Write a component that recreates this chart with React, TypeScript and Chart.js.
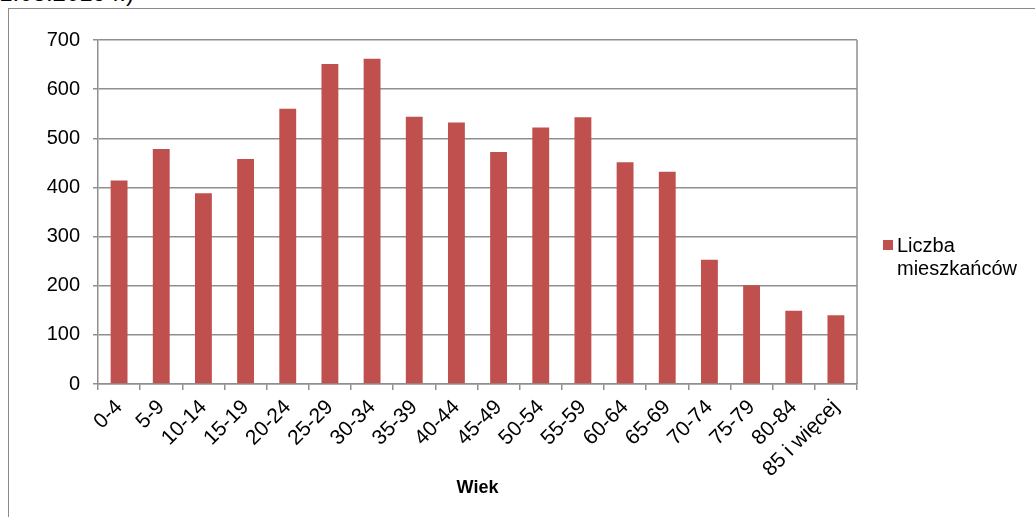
import React, { useEffect, useRef } from "react";
import { Chart, registerables } from "chart.js";

Chart.register(...registerables);

const categories = [
  "0-4", "5-9", "10-14", "15-19", "20-24", "25-29", "30-34", "35-39", "40-44",
  "45-49", "50-54", "55-59", "60-64", "65-69", "70-74", "75-79", "80-84", "85 i więcej",
];
const residents = [414, 478, 388, 458, 560, 651, 662, 544, 532, 472, 522, 543, 451, 432, 253, 201, 149, 140];
const yTickValues = [0, 100, 200, 300, 400, 500, 600, 700];
const seriesLabelLines = ["Liczba", "mieszkańców"];
const xAxisTitle = "Wiek";
const headerFragment = "(stan na 31.03.2019 r.)";

const FONT = "'Liberation Sans', Arial, sans-serif";
const BAR = "#C0504D";
const GRID = "#8f8f8f";

export default function App() {
  const ref = useRef<HTMLCanvasElement | null>(null);

  useEffect(() => {
    if (!ref.current) return;

    const extras = {
      id: "extras",
      afterDraw(chart: any) {
        const { ctx, chartArea } = chart;
        ctx.save();
        // right border of plot
        ctx.strokeStyle = GRID;
        ctx.lineWidth = 1.5;
        ctx.beginPath();
        ctx.moveTo(chartArea.right, chartArea.top);
        ctx.lineTo(chartArea.right, chartArea.bottom);
        ctx.stroke();
        // legend
        const lx = chartArea.right + 26;
        const ly = chartArea.top + 200;
        ctx.fillStyle = chart.data.datasets[0].backgroundColor;
        ctx.fillRect(lx, ly, 10, 10);
        ctx.fillStyle = "#000";
        ctx.font = `20px ${FONT}`;
        ctx.textBaseline = "alphabetic";
        ctx.textAlign = "left";
        seriesLabelLines.forEach((t, i) => {
          ctx.fillText(t, lx + 14, ly + 11.5 + i * 23);
        });
        ctx.restore();
      },
    };

    const chart = new Chart(ref.current, {
      type: "bar",
      data: {
        labels: categories,
        datasets: [
          {
            label: seriesLabelLines.join(" "),
            data: residents,
            backgroundColor: BAR,
            borderWidth: 0,
            categoryPercentage: 1,
            barPercentage: 0.4,
          },
        ],
      },
      options: {
        animation: false,
        responsive: true,
        maintainAspectRatio: false,
        layout: { padding: { left: 0, right: 178, top: 40, bottom: 0 } },
        plugins: {
          legend: { display: false },
          tooltip: { enabled: false },
          title: { display: false },
        },
        scales: {
          x: {
            afterFit(scale: any) {
              scale.height = 133;
            },
            grid: {
              display: true,
              offset: true,
              drawOnChartArea: false,
              drawTicks: true,
              tickLength: 6,
              color: GRID,
              lineWidth: 1.5,
            },
            border: { color: GRID, width: 1.5 },
            ticks: {
              color: "#000",
              font: { family: FONT, size: 21 },
              maxRotation: 45,
              minRotation: 45,
              autoSkip: false,
              padding: 5,
            },
            title: {
              display: true,
              text: xAxisTitle,
              color: "#000",
              font: { family: FONT, size: 18, weight: "bold" },
              padding: { top: 4, bottom: 18 },
            },
          },
          y: {
            min: 0,
            max: 700,
            afterFit(scale: any) {
              scale.width = 98;
            },
            afterBuildTicks(scale: any) {
              scale.ticks = yTickValues.map((v) => ({ value: v }));
            },
            grid: {
              color: GRID,
              lineWidth: 1.5,
              drawTicks: true,
              tickLength: 5,
            },
            border: { color: GRID, width: 1.5 },
            ticks: {
              color: "#000",
              font: { family: FONT, size: 20 },
              padding: 13,
            },
          },
        },
      },
      plugins: [extras],
    });
    return () => chart.destroy();
  }, []);

  return (
    <div style={{ position: "fixed", left: 0, top: 0, width: 1035, height: 517, overflow: "hidden", background: "#fff" }}>
      <div
        style={{
          position: "absolute",
          left: -300,
          width: 434,
          top: -19,
          textAlign: "right",
          fontFamily: FONT,
          fontSize: 24,
          lineHeight: "24px",
          color: "#000",
          whiteSpace: "nowrap",
        }}
      >
        {headerFragment}
      </div>
      <div
        style={{
          position: "absolute",
          left: 8,
          top: 8,
          width: 1100,
          height: 700,
          border: "1.5px solid #8a8a8a",
        }}
      />
      <div style={{ position: "absolute", left: 0, top: 0, width: 1035, height: 517 }}>
        <canvas ref={ref} />
      </div>
    </div>
  );
}
